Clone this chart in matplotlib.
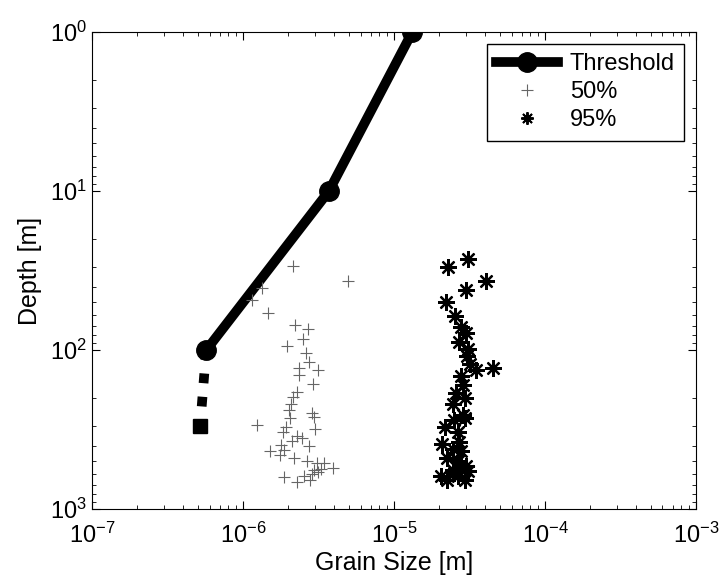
import matplotlib.pyplot as plt
from matplotlib.lines import Line2D

plt.rcParams['font.family'] = ['Liberation Sans', 'DejaVu Sans']

# threshold curve
thr_size = [1.32e-5, 3.7e-6, 5.7e-7]
thr_depth = [1, 10, 100]
# dotted extension below 100 m
ext_size = [5.7e-7, 5.2e-7]
ext_depth = [100, 300]

# 50% grain size
d50_size = [2.14e-6, 4.95e-6, 1.34e-6, 1.15e-6, 1.47e-6, 2.21e-6, 2.69e-6, 2.49e-6,
            1.95e-6, 2.61e-6, 2.73e-6, 2.35e-6, 3.14e-6, 2.35e-6, 2.91e-6, 2.28e-6,
            2.14e-6, 2.08e-6, 2.02e-6, 2.05e-6, 1.24e-6, 2.86e-6, 2.95e-6, 3.00e-6,
            1.93e-6, 1.84e-6, 2.28e-6, 2.46e-6, 2.11e-6, 1.79e-6, 2.73e-6, 1.51e-6,
            1.87e-6, 1.76e-6, 2.18e-6, 2.65e-6, 3.09e-6, 3.44e-6, 3.95e-6, 2.95e-6,
            3.14e-6, 2.86e-6, 1.87e-6, 2.28e-6, 2.54e-6, 2.78e-6, 3.29e-6]
d50_depth = [29.6, 36.8, 40.7, 48.5, 58.5, 69.6, 73.8, 85.3,
             94.4, 104, 119, 130, 134, 144, 164, 184,
             198, 219, 238, 268, 296, 249, 264, 314,
             305, 328, 347, 358, 373, 396, 402, 432,
             425, 458, 478, 499, 514, 514, 552, 569,
             585, 603, 629, 676, 620, 657, 560]

# 95% grain size
d95_size = [3.09e-5, 2.28e-5, 4.06e-5, 3.00e-5, 2.21e-5, 2.53e-5, 2.78e-5, 3.00e-5,
            2.69e-5, 3.09e-5, 3.04e-5, 3.18e-5, 3.49e-5, 4.53e-5, 2.78e-5, 2.86e-5,
            2.57e-5, 2.95e-5, 2.46e-5, 2.86e-5, 2.95e-5, 2.50e-5, 2.18e-5, 2.65e-5,
            2.69e-5, 2.08e-5, 2.46e-5, 2.78e-5, 2.24e-5, 2.65e-5, 3.00e-5, 2.46e-5,
            2.05e-5, 2.24e-5, 2.65e-5, 2.95e-5, 2.50e-5, 2.78e-5, 3.09e-5]
d95_depth = [26.8, 30.1, 36.8, 42.0, 49.9, 61.1, 71.7, 78.2,
             89.1, 98.6, 109, 122, 134, 130, 146, 166,
             186, 200, 219, 256, 268, 276, 305, 328,
             379, 390, 419, 432, 478, 499, 537, 569,
             620, 657, 620, 657, 594, 569, 577]

star = (8, 2, 0)  # MATLAB-like asterisk

fig = plt.figure(figsize=(7.19, 5.86), dpi=100)
ax = fig.add_axes([0.128, 0.131, 0.84, 0.814])

ax.plot(ext_size, ext_depth, color='black', lw=7, linestyle=(0, (1.0, 1.4)),
        solid_capstyle='butt', dash_capstyle='butt')
ax.plot(ext_size[-1:], ext_depth[-1:], 's', color='black', ms=10)
ax.plot(thr_size, thr_depth, '-o', color='black', lw=7, ms=14)
ax.plot(d50_size, d50_depth, '+', color='#666666', ms=9, mew=0.8)
ax.plot(d95_size, d95_depth, ls='none', marker=star, color='black', ms=12, mew=1.6)

ax.set_xscale('log')
ax.set_yscale('log')
ax.set_xlim(1e-7, 1e-3)
ax.set_ylim(1e3, 1e0)
ax.set_xticks([1e-7, 1e-6, 1e-5, 1e-4, 1e-3])
ax.set_yticks([1e0, 1e1, 1e2, 1e3])
ax.tick_params(which='both', direction='in', top=True, right=True, labelsize=17)
ax.tick_params(axis='x', pad=10)
ax.tick_params(which='major', length=6)
ax.tick_params(which='minor', length=3)
ax.set_xlabel('Grain Size [m]', fontsize=18, labelpad=2)
ax.set_ylabel('Depth [m]', fontsize=18, labelpad=6)

handles = [Line2D([], [], color='black', lw=7, marker='o', ms=14),
           Line2D([], [], color='#666666', ls='none', marker='+', ms=8, mew=0.8),
           Line2D([], [], color='black', ls='none', marker=star, ms=9, mew=1.4)]
leg = ax.legend(handles, ['Threshold', '50%', '95%'], loc='upper right',
                fontsize=17, fancybox=False, edgecolor='black', framealpha=1,
                handlelength=2.6, borderaxespad=0.5, labelspacing=0.25,
                borderpad=0.4, handletextpad=0.5)
leg.get_frame().set_linewidth(1.0)

fig.savefig('out.png', dpi=100)
